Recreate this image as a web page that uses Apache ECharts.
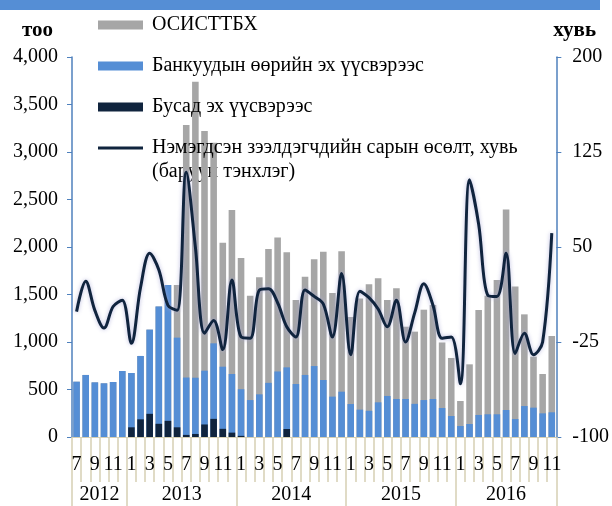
<!DOCTYPE html>
<html lang="mn">

<head>
  <meta charset='utf-8'>
  <title>Зээлдэгчид</title>
  <style>
    html, body { margin: 0; padding: 0; background: #fff; }
  </style>
</head>

<body>
  <div id="myCharts" style="width: 612px;height:506px;"></div>
  <script src="https://cdn.jsdelivr.net/npm/echarts@6/dist/echarts.min.js"></script>
  <script type="text/javascript">
    // сар (2012.07 - 2016.11)
    var months = ['7', '8', '9', '10', '11', '12',
      '1', '2', '3', '4', '5', '6', '7', '8', '9', '10', '11', '12',
      '1', '2', '3', '4', '5', '6', '7', '8', '9', '10', '11', '12',
      '1', '2', '3', '4', '5', '6', '7', '8', '9', '10', '11', '12',
      '1', '2', '3', '4', '5', '6', '7', '8', '9', '10', '11'];
    var years = ['2012', '2013', '2014', '2015', '2016'];
    // баганын дээд түвшин (тоо)
    var osisttbh = [582, 653, 575, 565, 579, 695,
      674, 853, 1130, 1375, 1600, 1600, 3284, 3740, 3221, 3098, 2046, 2389,
      1884, 1488, 1681, 1979, 2100, 1944, 1442, 1686, 1870, 1951, 1515, 1956,
      1263, 1458, 1607, 1672, 1442, 1566, 1161, 1109, 1340, 1389, 995, 832,
      379, 765, 1337, 1488, 1653, 2396, 1585, 1291, 846, 663, 1063];
    var bankOwn = [582, 653, 575, 565, 579, 695,
      674, 853, 1130, 1375, 1600, 1046, 626, 624, 698, 986, 740, 663,
      503, 389, 449, 570, 690, 733, 558, 653, 747, 600, 425, 477,
      347, 288, 276, 365, 432, 400, 400, 349, 389, 400, 305, 221,
      116, 137, 232, 239, 239, 284, 189, 326, 309, 249, 260];
    var otherSrc = [0, 0, 0, 0, 0, 0,
      102, 186, 244, 139, 170, 102, 22, 32, 132, 191, 86, 46,
      12, 0, 0, 0, 0, 84, 0, 0, 0, 0, 0, 0,
      0, 0, 0, 0, 0, 0, 0, 0, 0, 0, 0, 0,
      0, 0, 0, 0, 0, 0, 0, 0, 0, 0, 0];
    // сарын өсөлт, хувь (баруун тэнхлэг)
    var growth = [-1, 23, 0, -14, 3, 8,
      -26, 18, 45, 32, 4, 0, 109, 50, -18, -8, -31, 24,
      -21, -22, 16, 17, 6, -13, -21, 16, 11, 5, -21, 29,
      -35, 15, 10, 1, -13, 8, -25, -2, 21, 4, -22, -21,
      -58, 103, 68, 12, 11, 45, -34, -18, -35, -25, 61];
    var rightTicks = [-100, -25, 50, 125, 200];

    var names = ['ОСИСТТБХ', 'Банкуудын өөрийн эх үүсвэрээс', 'Бусад эх үүсвэрээс',
      'Нэмэгдсэн зээлдэгчдийн сарын өсөлт, хувь\n(баруун тэнхлэг)'];

    // оны хил ба голын байрлал
    var yearEdges = [0];
    months.forEach(function (m, i) { if (m === '1' && i > 0) yearEdges.push(i); });
    yearEdges.push(months.length);
    var yearMids = [];
    for (var k = 0; k < years.length; k++) yearMids.push((yearEdges[k] + yearEdges[k + 1]) / 2);

    var font = 'Liberation Serif';
    var tan = '#d6d0b4';
    var axisBlue = '#4f81bd';

    var myChart = echarts.init(document.getElementById('myCharts'));
    var chartOption = {
      animation: false,
      textStyle: { fontFamily: font, color: '#000' },
      grid: { left: 72, right: 54, top: 57, bottom: 69 },
      legend: {
        orient: 'vertical',
        left: 98,
        top: 15,
        padding: 0,
        itemWidth: 45,
        itemHeight: 9,
        itemGap: 21,
        textStyle: { fontFamily: font, fontSize: 20, color: '#000', padding: [0, 0, 0, 4] },
        formatter: function (n) { return n.split('\n')[0]; },
        data: [
          { name: names[0], icon: 'rect' },
          { name: names[1], icon: 'rect' },
          { name: names[2], icon: 'rect' },
          { name: names[3], icon: 'path://M0,0 L45,0 L45,3 L0,3 Z' }
        ]
      },
      graphic: [
        { type: 'rect', left: 0, top: 0, shape: { width: 600, height: 10 }, style: { fill: '#558ed5' } },
        { type: 'text', left: 152, top: 162, style: { text: names[3].split('\n')[1], font: '20px "Liberation Serif"', fill: '#000' } }
      ],
      xAxis: [
        {
          type: 'category',
          data: months,
          position: 'bottom',
          axisLine: { lineStyle: { color: tan, width: 1 } },
          axisTick: { show: true, inside: false, interval: 0, length: 45, lineStyle: { color: tan, width: 1.5 } },
          axisLabel: { interval: 1, fontSize: 20, fontFamily: font, color: '#000', margin: 18 }
        },
        {
          type: 'value',
          min: 0,
          max: months.length,
          position: 'bottom',
          axisLine: { show: false, onZero: false },
          splitLine: { show: false },
          axisTick: { show: true, inside: false, customValues: yearEdges, length: 69, lineStyle: { color: tan, width: 1.5 } },
          axisLabel: {
            customValues: yearMids, fontSize: 20, fontFamily: font, color: '#000', margin: 48,
            formatter: function (v) { return years[yearMids.indexOf(v)]; }
          }
        }
      ],
      yAxis: [
        {
          type: 'value',
          min: 0,
          max: 4000,
          interval: 500,
          name: 'тоо',
          nameLocation: 'end',
          nameGap: 16,
          nameTextStyle: { fontFamily: font, fontSize: 21, fontWeight: 'bold', color: '#000', align: 'right', padding: [0, 19, 0, 0] },
          axisLine: { show: true, lineStyle: { color: axisBlue, width: 1.5 } },
          axisTick: { show: true, length: 5, lineStyle: { color: axisBlue } },
          splitLine: { show: false },
          axisLabel: { fontSize: 20, fontFamily: font, color: '#000', margin: 14 }
        },
        {
          type: 'value',
          min: -100,
          max: 200,
          position: 'right',
          name: 'хувь',
          nameLocation: 'end',
          nameGap: 16,
          nameTextStyle: { fontFamily: font, fontSize: 21, fontWeight: 'bold', color: '#000', align: 'left', padding: [0, 0, 0, -3] },
          axisLine: { show: true, lineStyle: { color: axisBlue, width: 1.5 } },
          axisTick: { show: true, length: 5, customValues: rightTicks, lineStyle: { color: axisBlue } },
          splitLine: { show: false },
          axisLabel: { customValues: rightTicks, fontSize: 20, fontFamily: font, color: '#000', margin: 16 }
        }
      ],
      series: [
        {
          name: names[0],
          type: 'bar',
          barWidth: '72%',
          barGap: '-100%',
          itemStyle: { color: '#a6a6a6' },
          data: osisttbh
        },
        {
          name: names[1],
          type: 'bar',
          barWidth: '72%',
          barGap: '-100%',
          itemStyle: { color: '#558ed5' },
          data: bankOwn
        },
        {
          name: names[2],
          type: 'bar',
          barWidth: '72%',
          barGap: '-100%',
          itemStyle: { color: '#10243e' },
          data: otherSrc
        },
        {
          name: names[3],
          type: 'line',
          yAxisIndex: 1,
          smooth: 0.35,
          symbol: 'none',
          z: 5,
          lineStyle: {
            width: 3,
            color: '#10243e',
            shadowColor: 'rgba(170,170,215,0.8)',
            shadowBlur: 4
          },
          itemStyle: { color: '#10243e' },
          data: growth
        }
      ]
    };
    myChart.setOption(chartOption);
  </script>
</body>

</html>
